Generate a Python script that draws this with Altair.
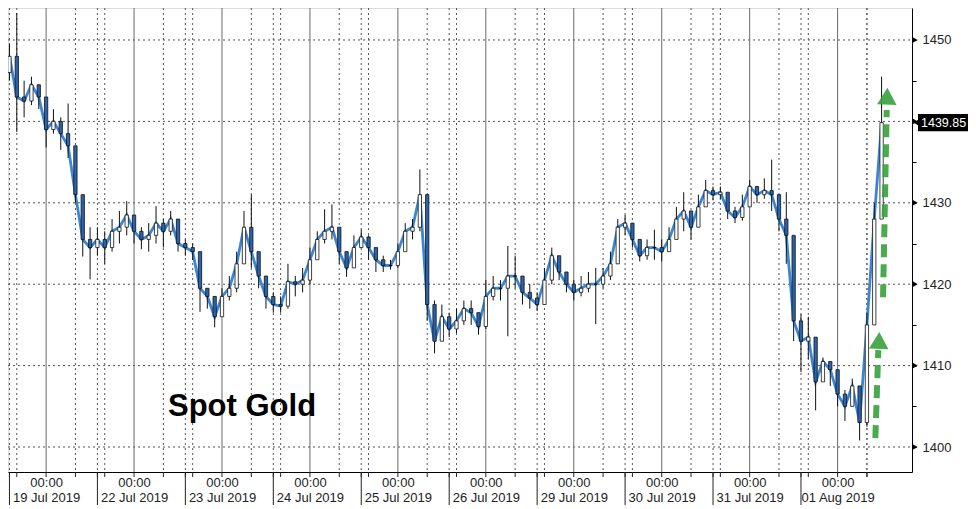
import json
import altair as alt
import pandas as pd

# ---------------- data ----------------
dates = ["19 Jul 2019", "22 Jul 2019", "23 Jul 2019", "24 Jul 2019", "25 Jul 2019",
         "26 Jul 2019", "29 Jul 2019", "30 Jul 2019", "31 Jul 2019", "01 Aug 2019"]
day_hours = [0, 24, 48, 72, 96, 120, 144, 168, 192, 216]   # trading-time position of each 00:00
start_hour = -10
step_hours = 2
open_first = 1446.0

closes = [1448.0, 1443.0, 1442.5, 1444.5, 1443.0, 1439.0, 1440.0, 1438.5, 1437.0, 1431.0,
          1425.5, 1424.5, 1425.5, 1424.5, 1426.5, 1427.0, 1428.5, 1426.5, 1425.5, 1426.0,
          1427.5, 1426.5, 1428.0, 1425.0, 1424.5, 1424.0, 1419.5, 1418.5, 1416.0, 1418.5,
          1419.5, 1422.5, 1427.0, 1424.0, 1421.0, 1418.5, 1417.5, 1417.3, 1420.3, 1420.0,
          1420.5, 1423.0, 1425.5, 1426.5, 1427.0, 1424.0, 1422.0, 1424.5, 1425.8, 1424.5,
          1423.0, 1422.3, 1422.3, 1424.0, 1426.5, 1427.0, 1431.0, 1417.5, 1413.0, 1416.0,
          1414.5, 1415.5, 1417.0, 1416.5, 1414.8, 1418.5, 1419.5, 1419.5, 1421.0, 1421.0,
          1419.0, 1418.3, 1417.5, 1420.5, 1423.5, 1421.5, 1420.0, 1419.0, 1419.5, 1420.0,
          1420.0, 1421.0, 1422.5, 1427.0, 1427.5, 1425.5, 1423.5, 1424.5, 1424.5, 1424.0,
          1425.5, 1428.0, 1429.0, 1427.0, 1429.5, 1431.5, 1431.0, 1431.3, 1429.0, 1428.2,
          1429.5, 1432.0, 1431.0, 1431.5, 1431.0, 1428.0, 1426.0, 1415.5, 1413.0, 1413.5,
          1408.0, 1410.5, 1409.5, 1406.5, 1405.0, 1407.5, 1403.0, 1415.0, 1428.0, 1439.85]
highs = [1449.5, 1453.3, 1445.0, 1445.5, 1444.5, 1441.5, 1441.5, 1440.5, 1442.2, 1437.0,
         1428.5, 1427.0, 1427.0, 1426.5, 1428.0, 1429.0, 1430.2, 1428.5, 1427.0, 1427.5,
         1429.6, 1428.0, 1429.0, 1428.0, 1425.5, 1425.0, 1423.5, 1419.5, 1418.5, 1419.5,
         1421.0, 1424.0, 1429.0, 1431.0, 1423.5, 1421.0, 1419.0, 1418.5, 1422.5, 1421.0,
         1422.0, 1424.5, 1426.5, 1429.2, 1429.8, 1426.5, 1424.0, 1426.0, 1426.7, 1426.0,
         1424.5, 1423.5, 1423.0, 1425.0, 1427.5, 1428.0, 1434.1, 1428.0, 1418.0, 1417.5,
         1416.5, 1417.0, 1418.0, 1418.0, 1416.5, 1420.5, 1421.0, 1420.5, 1424.7, 1423.5,
         1420.5, 1420.0, 1419.0, 1422.0, 1424.5, 1423.0, 1421.5, 1420.5, 1421.0, 1421.5,
         1422.0, 1422.0, 1424.0, 1428.0, 1428.5, 1427.5, 1425.0, 1425.5, 1426.7, 1425.5,
         1427.0, 1429.5, 1431.3, 1429.0, 1431.0, 1432.8, 1432.0, 1432.0, 1431.0, 1429.5,
         1431.0, 1432.8, 1432.0, 1433.0, 1435.3, 1429.5, 1431.3, 1425.5, 1416.3, 1416.0,
         1411.0, 1411.0, 1410.5, 1408.0, 1407.0, 1408.4, 1406.0, 1416.5, 1430.0, 1445.5]
lows = [1445.0, 1438.7, 1440.5, 1442.0, 1441.5, 1436.8, 1438.5, 1436.5, 1435.5, 1430.0,
        1423.4, 1420.6, 1423.5, 1422.5, 1424.0, 1425.0, 1426.0, 1425.0, 1424.3, 1424.0,
        1425.0, 1424.5, 1426.0, 1424.0, 1423.5, 1423.0, 1416.6, 1417.0, 1414.7, 1416.5,
        1418.0, 1419.0, 1424.0, 1422.0, 1419.5, 1417.0, 1416.5, 1416.5, 1417.0, 1418.5,
        1419.0, 1420.0, 1423.5, 1425.0, 1425.5, 1422.5, 1420.9, 1422.5, 1424.5, 1423.0,
        1421.5, 1421.5, 1421.8, 1422.0, 1425.0, 1425.5, 1426.5, 1415.5, 1411.5, 1413.0,
        1413.5, 1414.0, 1415.0, 1415.0, 1413.8, 1414.5, 1418.0, 1418.0, 1413.6, 1419.5,
        1417.5, 1417.0, 1416.7, 1418.0, 1420.0, 1420.5, 1419.0, 1418.0, 1418.5, 1419.0,
        1415.1, 1419.5, 1420.5, 1422.5, 1426.0, 1424.5, 1422.8, 1423.0, 1423.0, 1422.8,
        1424.0, 1426.0, 1426.5, 1425.5, 1428.0, 1430.0, 1430.3, 1430.5, 1428.0, 1427.5,
        1427.8, 1430.0, 1430.0, 1430.5, 1429.0, 1426.5, 1422.5, 1413.0, 1409.2, 1410.8,
        1404.5, 1408.5, 1407.5, 1405.0, 1403.2, 1405.0, 1400.8, 1402.5, 1418.0, 1435.0]

last_price = 1439.85
y_ticks = [1400, 1405, 1410, 1415, 1420, 1425, 1430, 1435, 1440, 1445, 1450]
y_major = [1400, 1410, 1420, 1430, 1440, 1450]
session_offsets = [-10, -8, 8]      # dotted session lines relative to 00:00
separator_offset = -10              # day separator on the time axis
title_text = "Spot Gold"

# arrows: (hour, price) of tail, shaft end and head centre
arrow_t0 = [226.3, 228.4]
arrow_p0 = [1401.1, 1418.4]
arrow_t1 = [227.1, 229.4]
arrow_p1 = [1411.9, 1441.4]
head_t = [227.3, 229.5]
head_p = [1413.1, 1443.1]

# ---------------- tables ----------------
n = len(closes)
t = [start_hour + step_hours * i for i in range(n)]
opens = [open_first] + closes[:-1]
candles = pd.DataFrame({"t": t, "open": opens, "close": closes, "high": highs, "low": lows})
candles["up"] = candles["close"] >= candles["open"]

W, H = 904, 464
xs = alt.Scale(domain=[-10.4, 236.3], nice=False, zero=False)
ys = alt.Scale(domain=[1396.93, 1453.93], nice=False, zero=False)
FONT = "Liberation Sans"

solid_df = pd.DataFrame({"t": day_hours})
dotted_df = pd.DataFrame({"t": [d + o for d in day_hours for o in session_offsets] + [day_hours[-1] + 8]})
sep_df = pd.DataFrame({"t": [d + separator_offset for d in day_hours]})
tick_df = pd.DataFrame({"t": list(solid_df.t) + list(dotted_df.t)})
hgrid_df = pd.DataFrame({"p": y_major})

labels_expr = "['00:00', " + json.dumps(dates) + "[round(datum.value/24)]]"

base_x = alt.X("t:Q", scale=xs, title=None,
               axis=alt.Axis(values=day_hours, labelExpr=labels_expr, ticks=False,
                             grid=False, domainColor="#000", domainWidth=1,
                             labelFont=FONT, labelFontSize=13, labelColor="#222",
                             labelPadding=4, labelLineHeight=15, labelBaseline="top",
                             labelAlign="center", labelFlush=False, labelOverlap=False))

hgrid = alt.Chart(hgrid_df).mark_rule(color="#555", strokeDash=[2, 3], strokeWidth=1).encode(
    y=alt.Y("p:Q", scale=ys,
            axis=alt.Axis(orient="right", values=y_ticks, title=None, grid=False, format="d",
                          labelExpr=f"datum.value % 10 == 0 && datum.value != {round(last_price, -1):.0f} ? datum.label : ''",
                          tickSize=4, tickColor="#000", domainColor="#000",
                          labelFont=FONT, labelFontSize=13, labelColor="#222",
                          labelPadding=6)),
    x=alt.value(0), x2=alt.value(W))

vsolid = alt.Chart(solid_df).mark_rule(color="#6a6a6a", strokeWidth=1).encode(
    x=base_x, y=alt.value(0), y2=alt.value(H))
vdot = alt.Chart(dotted_df).mark_rule(color="#555", strokeDash=[2, 3], strokeWidth=1).encode(
    x=alt.X("t:Q", scale=xs), y=alt.value(0), y2=alt.value(H))
seps = alt.Chart(sep_df).mark_rule(color="#222", strokeWidth=1).encode(
    x=alt.X("t:Q", scale=xs), y=alt.value(H), y2=alt.value(H + 33))
small_ticks = alt.Chart(tick_df).mark_rule(color="#222", strokeWidth=1).encode(
    x=alt.X("t:Q", scale=xs), y=alt.value(H), y2=alt.value(H + 5))

line = alt.Chart(candles).mark_line(color="#3a86d2", strokeWidth=2.8).encode(
    x=alt.X("t:Q", scale=xs), y=alt.Y("close:Q", scale=ys))
wicks = alt.Chart(candles).mark_rule(color="#111", strokeWidth=1).encode(
    x=alt.X("t:Q", scale=xs), y=alt.Y("low:Q", scale=ys), y2="high:Q")
bodies = alt.Chart(candles).transform_calculate(
    x0="datum.t - 0.45", x1="datum.t + 0.45"
).mark_rect(stroke="#111", strokeWidth=0.8).encode(
    x=alt.X("x0:Q", scale=xs), x2="x1:Q",
    y=alt.Y("open:Q", scale=ys), y2="close:Q",
    fill=alt.condition("datum.up", alt.value("#ffffff"), alt.value("#2b63ae")))

major_marks = alt.Chart(hgrid_df).mark_point(shape="triangle-right", filled=True,
                                             color="#000", size=38, opacity=1).encode(
    y=alt.Y("p:Q", scale=ys), x=alt.value(W + 3))

last_df = pd.DataFrame({"p": [last_price], "txt": [f"{last_price:.2f}"]})
last_box = alt.Chart(last_df).transform_calculate(
    p0="datum.p + 1.05", p1="datum.p - 1.05"
).mark_rect(color="#000").encode(
    y=alt.Y("p0:Q", scale=ys), y2="p1:Q", x=alt.value(W + 6), x2=alt.value(W + 56))
last_ptr = alt.Chart(last_df).mark_point(shape="triangle-left", filled=True, color="#000",
                                          size=70, opacity=1).encode(
    y=alt.Y("p:Q", scale=ys), x=alt.value(W + 5))
last_txt = alt.Chart(last_df).mark_text(color="#fff", font=FONT, fontSize=12.5,
                                         align="left", baseline="middle").encode(
    y=alt.Y("p:Q", scale=ys), x=alt.value(W + 9), text="txt:N")

title_df = pd.DataFrame({"txt": [title_text]})
title = alt.Chart(title_df).mark_text(font=FONT, fontSize=31, fontWeight="bold",
                                       color="#000", align="left",
                                       baseline="alphabetic").encode(
    x=alt.value(160), y=alt.value(408), text="txt:N")

arrow_df = pd.DataFrame({"t0": arrow_t0, "p0": arrow_p0, "t1": arrow_t1, "p1": arrow_p1})
head_df = pd.DataFrame({"t": head_t, "p": head_p})
arrows = alt.Chart(arrow_df).mark_rule(color="#35a23a", strokeWidth=6, strokeDash=[13, 7],
                                       opacity=0.9).encode(
    x=alt.X("t0:Q", scale=xs), y=alt.Y("p0:Q", scale=ys), x2="t1:Q", y2="p1:Q")
heads = alt.Chart(head_df).mark_point(shape="triangle-up", filled=True, color="#35a23a",
                                      size=380, opacity=0.9, angle=2).encode(
    x=alt.X("t:Q", scale=xs), y=alt.Y("p:Q", scale=ys))

chart = alt.layer(
    hgrid, vsolid, vdot, seps, small_ticks, line, wicks, bodies,
    major_marks, arrows, heads, last_box, last_ptr, last_txt, title
).properties(
    width=W, height=H,
    autosize=alt.AutoSizeParams(type="none"),
    padding={"left": 0, "top": 0, "right": 56, "bottom": 34},
).configure_view(stroke=None).configure(background="#ffffff")

chart.save("out.html", embed_options={"renderer": "svg", "actions": False})
